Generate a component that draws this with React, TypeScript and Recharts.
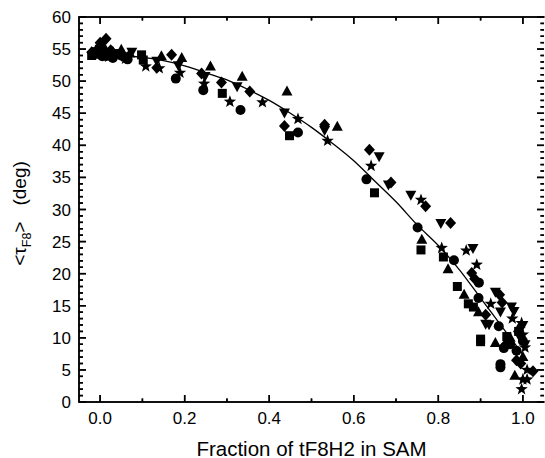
import React from 'react';
import { ScatterChart, Scatter, XAxis, YAxis, Label } from 'recharts';

// axis ticks
const xMajorTicks = [0, 0.2, 0.4, 0.6, 0.8, 1.0];
const xMinorTicks = [0.1, 0.3, 0.5, 0.7, 0.9];
const yMajorTicks = [0, 5, 10, 15, 20, 25, 30, 35, 40, 45, 50, 55, 60];
const yMinorTicks = [
    1, 2, 3, 4, 6, 7, 8, 9, 11, 12, 13, 14, 16, 17, 18, 19, 21, 22, 23, 24, 26, 27, 28, 29,
    31, 32, 33, 34, 36, 37, 38, 39, 41, 42, 43, 44, 46, 47, 48, 49, 51, 52, 53, 54, 56, 57, 58, 59,
];
const xTicks = [...xMajorTicks, ...xMinorTicks].sort((a, b) => a - b);
const yTicks = [...yMajorTicks, ...yMinorTicks].sort((a, b) => a - b);
const X_DOMAIN = [-0.05, 1.05];
const Y_DOMAIN = [0, 60];

// measured points, [fraction, angle]
const squares = [
    [-0.02, 54.0], [-0.01, 54.6], [0.0, 54.2], [0.02, 53.9], [0.04, 54.3], [0.06, 53.8],
    [0.098, 54.1], [0.102, 53.3], [0.289, 48.1], [0.448, 41.5], [0.649, 32.6], [0.759, 23.7],
    [0.812, 22.6], [0.845, 18.0], [0.871, 15.3], [0.883, 14.8], [0.9, 9.8], [0.9, 9.4],
    [0.962, 10.2], [0.99, 11.0],
];
const circles = [
    [-0.015, 54.3], [0.005, 53.9], [0.03, 53.6], [0.05, 54.0], [0.065, 53.4],
    [0.179, 50.4], [0.244, 48.6], [0.332, 45.5], [0.468, 42.0], [0.63, 34.7], [0.751, 27.2],
    [0.837, 22.1], [0.896, 18.6], [0.895, 16.2], [0.943, 11.8], [0.955, 8.4], [0.947, 5.9],
    [0.947, 5.4], [0.97, 9.0], [0.985, 8.0], [1.0, 9.5],
];
const trianglesUp = [
    [-0.01, 54.8], [0.01, 55.2], [0.03, 54.6], [0.05, 54.9], [0.07, 54.3],
    [0.145, 53.9], [0.193, 53.6], [0.261, 52.3], [0.336, 50.7], [0.442, 48.4], [0.561, 42.9],
    [0.761, 25.3], [0.823, 20.7], [0.861, 16.7], [0.895, 14.0], [0.935, 9.2], [0.97, 10.0],
    [0.981, 4.1], [1.0, 7.0], [0.99, 11.5],
];
const trianglesDown = [
    [0.0, 55.0], [0.02, 54.5], [0.045, 54.2], [0.075, 54.6],
    [0.134, 53.2], [0.185, 52.5], [0.248, 50.8], [0.324, 49.2], [0.436, 45.1], [0.531, 42.4],
    [0.66, 38.3], [0.682, 33.9], [0.735, 32.3], [0.806, 27.9], [0.882, 24.0], [0.912, 12.2],
    [0.92, 12.1], [0.935, 17.2], [0.947, 14.1], [0.973, 14.9], [0.979, 14.2], [0.99, 10.5],
    [1.0, 12.0], [1.005, 9.0],
];
const diamonds = [
    [0.0, 56.0], [0.014, 56.6], [0.0, 55.4], [0.025, 54.8], [-0.02, 54.5],
    [0.134, 52.1], [0.169, 54.1], [0.24, 51.2], [0.287, 49.8], [0.354, 48.4], [0.436, 43.0],
    [0.531, 43.2], [0.637, 39.3], [0.688, 34.2], [0.77, 30.5], [0.829, 27.9], [0.879, 20.1],
    [0.886, 19.2], [0.912, 13.6], [0.945, 16.7], [0.951, 15.5], [0.96, 9.0], [0.985, 6.5],
    [0.995, 6.0], [1.024, 4.8],
];
const stars = [
    [0.0, 54.3], [0.02, 53.8], [0.04, 54.0], [0.06, 53.5],
    [0.108, 52.3], [0.14, 52.0], [0.189, 51.3], [0.246, 49.6], [0.307, 46.8], [0.384, 46.7],
    [0.468, 44.1], [0.538, 40.7], [0.641, 36.8], [0.759, 31.5], [0.808, 24.0], [0.866, 23.6],
    [0.891, 21.4], [0.924, 15.3], [0.975, 13.0], [0.997, 12.3], [1.0, 10.5], [1.005, 8.5],
    [0.997, 2.0], [1.0, 3.5], [1.01, 3.5], [1.01, 5.0],
];

// fitted curve
const fitX = [-0.02, 0, 0.05, 0.1, 0.15, 0.2, 0.25, 0.3, 0.35, 0.4, 0.45, 0.5, 0.55, 0.6, 0.65, 0.7, 0.75, 0.8, 0.85, 0.9, 0.95, 1.0, 1.01];
const fitY = [54.1, 54.1, 54.0, 53.7, 53.2, 52.4, 51.3, 50.2, 48.7, 47.0, 45.0, 42.8, 40.3, 37.6, 34.4, 31.2, 27.6, 24.4, 20.6, 16.2, 11.8, 7.4, 6.5];

const toPts = (arr: number[][]) => arr.map(([x, y]) => ({ x, y }));
const fitPts = fitX.map((x, i) => ({ x, y: fitY[i] }));

// tick anchor points on the four edges of the plot box
const onBottom = (ts: number[]) => ts.map(t => ({ x: t, y: Y_DOMAIN[0] }));
const onTop = (ts: number[]) => ts.map(t => ({ x: t, y: Y_DOMAIN[1] }));
const onLeft = (ts: number[]) => ts.map(v => ({ x: X_DOMAIN[0], y: v }));
const onRight = (ts: number[]) => ts.map(v => ({ x: X_DOMAIN[1], y: v }));

const FONT = 'Liberation Sans, Arial, sans-serif';
const MAJOR = 7;
const MINOR = 3.5;
const LW = 1.5;
const isMajor = (v: number, majors: number[]) => majors.some(m => Math.abs(m - v) < 1e-6);

const makeShape = (kind: string) => (props: any) => {
    const { cx, cy } = props;
    if (cx == null || cy == null) return <g />;
    if (kind === 'square') return <rect x={cx - 4.5} y={cy - 4.5} width={9} height={9} fill="#000" />;
    if (kind === 'circle') return <circle cx={cx} cy={cy} r={5} fill="#000" />;
    if (kind === 'up') return <polygon points={`${cx},${cy - 6} ${cx + 5.5},${cy + 4} ${cx - 5.5},${cy + 4}`} fill="#000" />;
    if (kind === 'down') return <polygon points={`${cx - 5.5},${cy - 4} ${cx + 5.5},${cy - 4} ${cx},${cy + 6}`} fill="#000" />;
    if (kind === 'diamond') return <polygon points={`${cx},${cy - 6} ${cx + 5.5},${cy} ${cx},${cy + 6} ${cx - 5.5},${cy}`} fill="#000" />;
    // star
    const pts: string[] = [];
    for (let i = 0; i < 10; i++) {
        const r = i % 2 === 0 ? 6.5 : 2.7;
        const a = -Math.PI / 2 + (i * Math.PI) / 5;
        pts.push(`${cx + r * Math.cos(a)},${cy + r * Math.sin(a)}`);
    }
    return <polygon points={pts.join(' ')} fill="#000" />;
};

// inward tick marks drawn as thin filled bars
const tickShape = (side: string, len: number) => (props: any) => {
    const { cx, cy } = props;
    if (cx == null || cy == null) return <g />;
    if (side === 'bottom') return <rect x={cx - LW / 2} y={cy - len} width={LW} height={len} fill="#000" />;
    if (side === 'top') return <rect x={cx - LW / 2} y={cy} width={LW} height={len} fill="#000" />;
    if (side === 'left') return <rect x={cx} y={cy - LW / 2} width={len} height={LW} fill="#000" />;
    return <rect x={cx - len} y={cy - LW / 2} width={len} height={LW} fill="#000" />;
};
const noShape = () => <g />;

const BottomTick = (props: any) => {
    const { x, y, payload } = props;
    const major = isMajor(payload.value, xMajorTicks);
    return (
        <g>
            <path d={`M${x},${y}V${y - (major ? MAJOR : MINOR)}`} stroke="#000" strokeWidth={LW} fill="none" />
            <text x={x} y={y + 22} textAnchor="middle" fontSize={17} fontFamily={FONT} fill="#000">
                {major ? payload.value.toFixed(1) : ''}
            </text>
        </g>
    );
};

const TopTick = (props: any) => {
    const { x, y, payload } = props;
    const major = isMajor(payload.value, xMajorTicks);
    return <path d={`M${x},${y}V${y + (major ? MAJOR : MINOR)}`} stroke="#000" strokeWidth={LW} fill="none" />;
};

const LeftTick = (props: any) => {
    const { x, y, payload } = props;
    const major = isMajor(payload.value, yMajorTicks);
    return (
        <g>
            <path d={`M${x},${y}H${x + (major ? MAJOR : 4)}`} stroke="#000" strokeWidth={LW} fill="none" />
            <text x={x - 8} y={y + 6} textAnchor="end" fontSize={17} fontFamily={FONT} fill="#000">
                {major ? String(payload.value) : ''}
            </text>
        </g>
    );
};

const RightTick = (props: any) => {
    const { x, y, payload } = props;
    const major = isMajor(payload.value, yMajorTicks);
    return <path d={`M${x},${y}H${x - (major ? MAJOR : MINOR)}`} stroke="#000" strokeWidth={LW} fill="none" />;
};

// bottom edge of the box + x title
const XTitle = (props: any) => {
    const { x, y, width } = props.viewBox;
    return (
        <g>
            <rect x={x - LW / 2} y={y - LW / 2} width={width + LW} height={LW} fill="#000" />
            <text x={x + width / 2} y={y + 53.5} textAnchor="middle" fontSize={20.5} fontFamily={FONT} fill="#000">
                Fraction of tF8H2 in SAM
            </text>
        </g>
    );
};

// top edge of the box
const TopEdge = (props: any) => {
    const { x, y, width, height } = props.viewBox;
    return <rect x={x - LW / 2} y={y + height - LW / 2} width={width + LW} height={LW} fill="#000" />;
};

// left edge of the box + y title
const YTitle = (props: any) => {
    const { x, y, width, height } = props.viewBox;
    const cx = x - 52;
    const cy = y + height / 2 + 4;
    return (
        <g>
            <rect x={x + width - LW / 2} y={y - LW / 2} width={LW} height={height + LW} fill="#000" />
            <text x={cx} y={cy} transform={`rotate(-90 ${cx} ${cy})`} textAnchor="middle" fontSize={19} fontFamily={FONT} fill="#000">
                <tspan>&lt;τ</tspan>
                <tspan fontSize={12.5} dy={5}>F8</tspan>
                <tspan dy={-5}>&gt;</tspan>
                <tspan dx={16}>(deg)</tspan>
            </text>
        </g>
    );
};

const App: React.FC = () => (
    <div style={{ position: 'absolute', left: 0, top: 0 }}>
        <ScatterChart width={545} height={458} margin={{ top: 16, right: 0, bottom: 55, left: 78 }}>
            <XAxis xAxisId="bottom" orientation="bottom" dataKey="x" type="number" domain={X_DOMAIN}
                ticks={xTicks} interval={0} height={1} tickSize={0} tickMargin={0} tickLine={false}
                tick={BottomTick} axisLine={{ stroke: '#000', strokeWidth: LW }}>
                <Label content={XTitle} />
            </XAxis>
            <XAxis xAxisId="top" orientation="top" dataKey="x" type="number" domain={X_DOMAIN}
                ticks={xTicks} interval={0} height={1} tickSize={0} tickMargin={0} tickLine={false}
                tick={TopTick} axisLine={{ stroke: '#000', strokeWidth: LW }}>
                <Label content={TopEdge} />
            </XAxis>
            <YAxis yAxisId="left" orientation="left" dataKey="y" type="number" domain={Y_DOMAIN}
                ticks={yTicks} interval={0} width={1} tickSize={0} tickMargin={0} tickLine={false}
                tick={LeftTick} axisLine={{ stroke: '#000', strokeWidth: LW }}>
                <Label content={YTitle} />
            </YAxis>
            <YAxis yAxisId="right" orientation="right" dataKey="y" type="number" domain={Y_DOMAIN}
                ticks={yTicks} interval={0} width={1} tickSize={0} tickMargin={0} tickLine={false}
                tick={RightTick} axisLine={false} />

            <Scatter data={onBottom(xMajorTicks)} xAxisId="bottom" yAxisId="left" isAnimationActive={false} shape={tickShape('bottom', MAJOR)} />
            <Scatter data={onBottom(xMinorTicks)} xAxisId="bottom" yAxisId="left" isAnimationActive={false} shape={tickShape('bottom', MINOR)} />
            <Scatter data={onTop(xMajorTicks)} xAxisId="bottom" yAxisId="left" isAnimationActive={false} shape={tickShape('top', MAJOR)} />
            <Scatter data={onTop(xMinorTicks)} xAxisId="bottom" yAxisId="left" isAnimationActive={false} shape={tickShape('top', MINOR)} />
            <Scatter data={onLeft(yMajorTicks)} xAxisId="bottom" yAxisId="left" isAnimationActive={false} shape={tickShape('left', MAJOR)} />
            <Scatter data={onLeft(yMinorTicks)} xAxisId="bottom" yAxisId="left" isAnimationActive={false} shape={tickShape('left', 4)} />
            <Scatter data={onRight(yMajorTicks)} xAxisId="bottom" yAxisId="left" isAnimationActive={false} shape={tickShape('right', MAJOR)} />
            <Scatter data={onRight(yMinorTicks)} xAxisId="bottom" yAxisId="left" isAnimationActive={false} shape={tickShape('right', MINOR)} />

            <Scatter data={fitPts} xAxisId="top" yAxisId="right" isAnimationActive={false}
                line={{ stroke: '#000', strokeWidth: 1.3 }} lineType="joint" lineJointType="monotoneX"
                shape={noShape} />
            <Scatter data={toPts(squares)} xAxisId="bottom" yAxisId="left" isAnimationActive={false} shape={makeShape('square')} />
            <Scatter data={toPts(circles)} xAxisId="bottom" yAxisId="left" isAnimationActive={false} shape={makeShape('circle')} />
            <Scatter data={toPts(trianglesUp)} xAxisId="bottom" yAxisId="left" isAnimationActive={false} shape={makeShape('up')} />
            <Scatter data={toPts(trianglesDown)} xAxisId="bottom" yAxisId="left" isAnimationActive={false} shape={makeShape('down')} />
            <Scatter data={toPts(diamonds)} xAxisId="bottom" yAxisId="left" isAnimationActive={false} shape={makeShape('diamond')} />
            <Scatter data={toPts(stars)} xAxisId="bottom" yAxisId="left" isAnimationActive={false} shape={makeShape('star')} />
        </ScatterChart>
    </div>
);

export default App;
